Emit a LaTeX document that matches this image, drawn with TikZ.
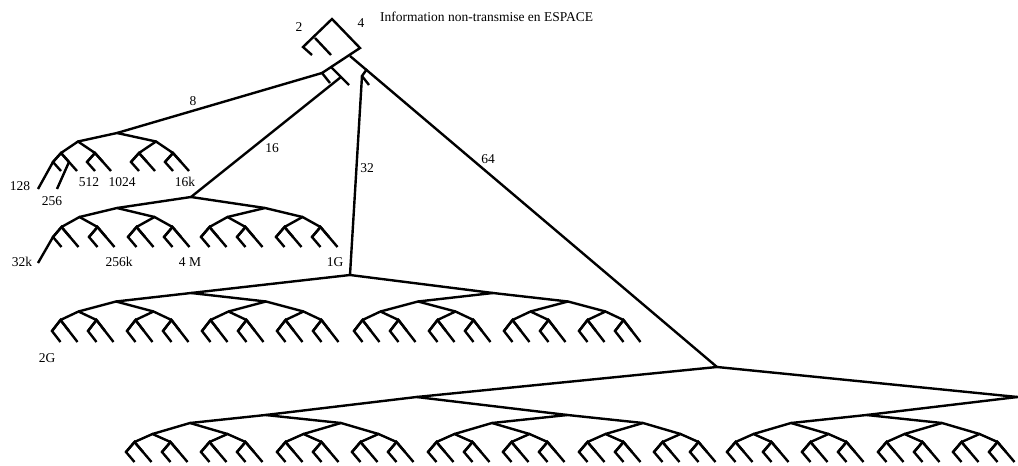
\documentclass[tikz,border=0pt]{standalone}
\usepackage{fontspec}
\setmainfont{Liberation Serif}
\usetikzlibrary{calc}

% complete binary tree: name, root, spread/drop for each level
\newcommand{\bintree}[3]{%
  \coordinate (#1-0-0) at (#2);
  \foreach \w/\h [count=\d] in {#3} {
    \pgfmathtruncatemacro{\dd}{\d-1}
    \pgfmathtruncatemacro{\pmax}{2^\dd-1}
    \foreach \p in {0,...,\pmax} {
      \pgfmathtruncatemacro{\lc}{2*\p}
      \pgfmathtruncatemacro{\rc}{2*\p+1}
      \coordinate (#1-\d-\lc) at ($(#1-\dd-\p)+(-\w,\h)$);
      \coordinate (#1-\d-\rc) at ($(#1-\dd-\p)+(\w,\h)$);
      \draw (#1-\d-\lc) -- (#1-\dd-\p) -- (#1-\d-\rc);
    }
  }
}
% every leaf gets a tail hanging to the lower right
\newcommand{\leaftails}[4]{%
  \pgfmathtruncatemacro{\nmax}{2^#2-1}
  \pgfmathtruncatemacro{\up}{#2-1}
  \foreach \i in {0,...,\nmax} {
    \pgfmathtruncatemacro{\p}{div(\i,2)}
    \coordinate (#1-t-\i) at ($(#1-#2-\i)+(#3,#4)$);
    \draw (#1-\up-\p) -- (#1-#2-\i) -- (#1-t-\i);
  }
}

\begin{document}
\begin{tikzpicture}
[
                 x = 1pt,
                 y = -1pt,
        line width = 2.4pt,
   every node/.style = { font=\fontsize{13.5}{15}\selectfont, inner sep=0pt },
          lbl/.style = { anchor=center },
         tlbl/.style = { anchor=west }
]
  \useasboundingbox (0,0) rectangle (1018,466);
  \clip (0,0) rectangle (1018,466);

  % the four trees
  \bintree{t8}{117,133}{39/8.5, 17/11.5, 8/9}
  \leaftails{t8}{3}{8}{9}

  \bintree{t16}{191,197}{74/11, 37.5/9, 18/10, 8.5/10}
  \leaftails{t16}{4}{8.5}{10}

  % the 32 tree hangs off-centre, so build it from its two halves
  \bintree{t32l}{191,293}{75/8.5, 37.5/10, 18/8.5, 8.5/11}
  \leaftails{t32l}{4}{8.5}{11}
  \bintree{t32r}{493,293}{75/8.5, 37.5/10, 18/8.5, 8.5/11}
  \leaftails{t32r}{4}{8.5}{11}
  \coordinate (t32) at (350,275);
  \draw (t32l-0-0) -- (t32) -- (t32r-0-0);

  \bintree{t64}{717,367}{300.5/30, 151/18, 75.5/8, 37.5/11, 18/8, 8.5/10}
  \leaftails{t64}{6}{8.5}{10}

  % strokes running off the first leaves
  \coordinate (s128) at (38,189);
  \coordinate (s256) at (57,189);
  \coordinate (s32k) at (38,263);
  \draw (t8-3-0) -- (s128);
  \draw (t8-3-1) -- (s256);
  \draw (t16-4-0) -- (s32k);

  % top of the tree
  \coordinate (apex)     at (332,19);
  \coordinate (two)      at (303,47);
  \coordinate (mid)      at (315,38);
  \coordinate (two-t)    at (312,55);
  \coordinate (mid-t)    at (331,55);
  \coordinate (four)     at (360,48);
  \coordinate (knee)     at (322,73);
  \coordinate (knee-t)   at (330,83);
  \coordinate (fork64)   at (350,56);
  \coordinate (sp)       at (331,67);
  \coordinate (sp-t)     at (349,85);
  \coordinate (fork16)   at (341,77);
  \coordinate (j32)      at (367,69);
  \coordinate (fork32)   at (362,76);
  \coordinate (fork32-t) at (369,85);

  \draw (two-t) -- (two) -- (apex) -- (four) -- (knee) -- (knee-t);
  \draw (mid) -- (mid-t);
  \draw (sp) -- (sp-t);
  \draw (j32) -- (fork32) -- (fork32-t);

  \draw (knee)   -- (t8-0-0);
  \draw (fork16) -- (t16-0-0);
  \draw (fork32) -- (t32);
  \draw (fork64) -- (t64-0-0);

  % labels
  \node (Title) at (379,17) [tlbl] {Information non-transmise en ESPACE};
  \node (L2)    at (299,27) [lbl] {2};
  \node (L4)    at (361,23) [lbl] {4};
  \node (L8)    at (193,101) [lbl] {8};
  \node (L16)   at (272,148) [lbl] {16};
  \node (L32)   at (367,168) [lbl] {32};
  \node (L64)   at (488,159) [lbl] {64};
  \node (L128)  at (20,186) [lbl] {128};
  \node (L256)  at (52,201) [lbl] {256};
  \node (L512)  at (89,182) [lbl] {512};
  \node (L1024) at (122,182) [lbl] {1024};
  \node (L16k)  at (185,182) [lbl] {16k};
  \node (L32k)  at (22,262) [lbl] {32k};
  \node (L256k) at (119,262) [lbl] {256k};
  \node (L4M)   at (190,262) [lbl] {4 M};
  \node (L1G)   at (335,262) [lbl] {1G};
  \node (L2G)   at (47,358) [lbl] {2G};
\end{tikzpicture}
\end{document}
